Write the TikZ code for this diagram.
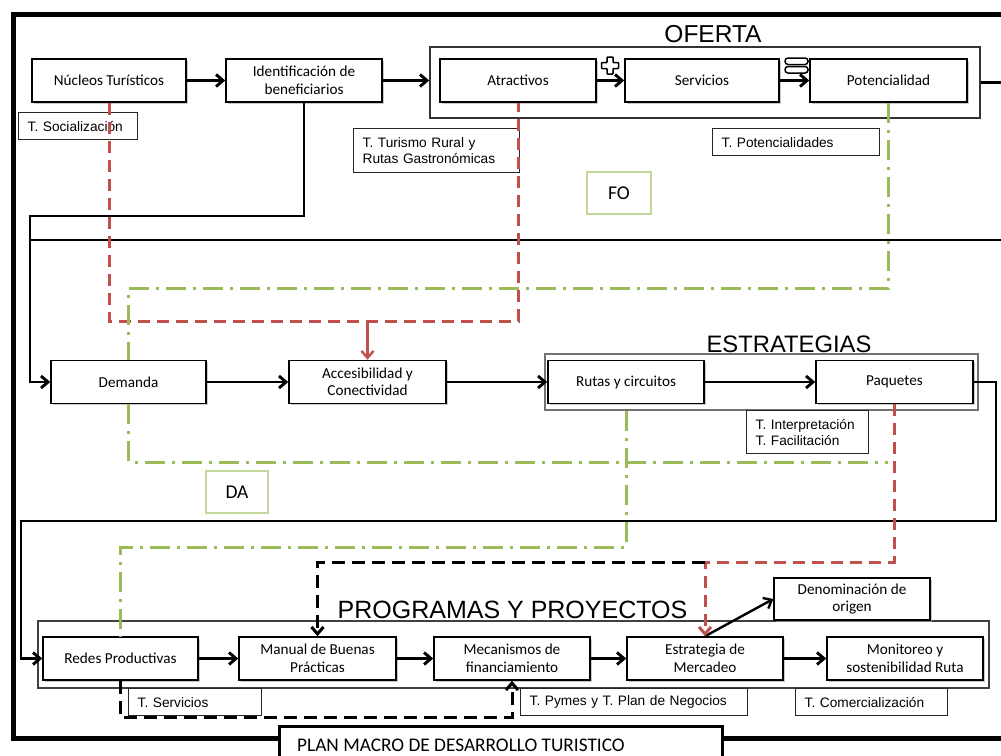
\documentclass[tikz,border=0pt]{standalone}
\usepackage{fontspec}
\setmainfont{Carlito}
\newfontfamily\arialf{Liberation Sans}
\usetikzlibrary{arrows.meta,shadows}
\definecolor{cgreen}{HTML}{9BBB59}
\definecolor{cgreenbox}{HTML}{C3D69B}
\definecolor{cred}{HTML}{C0504D}
\begin{document}
\begin{tikzpicture}[x=1pt,y=-1pt,
  >={Straight Barb[length=7pt,width=12pt]},
  box/.style={draw=black,line width=1.5pt,fill=white,minimum width=155pt,minimum height=43pt,inner sep=0pt,align=center,font=\fontsize{15.2}{17.5}\selectfont,drop shadow={shadow xshift=1.6pt,shadow yshift=-1.6pt,fill=black!35,opacity=0.6}},
  grp/.style={draw=black!80,line width=1.6pt,inner sep=0pt},
  tag/.style={draw=black!85,line width=1.3pt,anchor=north west,inner xsep=9pt,inner ysep=0pt,align=left,font=\arialf\fontsize{13.7}{16}\selectfont},
  swot/.style={draw=cgreenbox,line width=1.7pt,inner sep=0pt,font=\fontsize{19.5}{22}\selectfont},
  title/.style={anchor=base,inner sep=0pt,font=\arialf\fontsize{24.5}{26}\selectfont},
  conn/.style={draw=black,line width=2.9pt},
  frame/.style={draw=black,line width=5pt},
  gdash/.style={draw=cgreen,line width=3pt,dash pattern=on 20pt off 7pt on 3pt off 7pt},
  rdash/.style={draw=cred,line width=3pt,dash pattern=on 12pt off 7pt},
  kdash/.style={draw=black,line width=3pt,dash pattern=on 13pt off 7pt}
]
\useasboundingbox (0,0) rectangle (1001,755);
\clip (0,0) rectangle (1001,755);
\fill[white] (0,0) rectangle (1001,755);

% outer frame
\node[draw=black,line width=3pt,anchor=north west,minimum width=443pt,minimum height=50pt,inner sep=0pt] (plan) at (278,725) {};
\node[anchor=base west,inner sep=0pt,font=\fontsize{19.3}{22}\selectfont] (plantxt) at (297,751) {PLAN MACRO DE DESARROLLO TURISTICO};
\coordinate (fA) at (278,738);
\coordinate (fB) at (13,738);
\coordinate (fC) at (13,14);
\coordinate (fD) at (1012,14);
\coordinate (fE) at (721,738);
\coordinate (fF) at (1012,738);
\draw[frame] (fA) -- (fB) -- (fC) -- (fD);
\draw[frame] (fE) -- (fF);

% group boxes
\node[grp,minimum width=550pt,minimum height=71pt] (ofe) at (705,82.5) {};
\node[grp,draw=black!55,line width=2.2pt,minimum width=433pt,minimum height=56pt] (str) at (761.5,382) {};
\node[grp,draw=black!75,minimum width=951pt,minimum height=67pt] (prg) at (513.5,654.5) {};

% titles
\node[title] (tofe) at (713,42) {OFERTA};
\node[title,font=\arialf\fontsize{23.8}{26}\selectfont] (testr) at (789,352) {ESTRATEGIAS};
\node[title,font=\arialf\fontsize{25}{28}\selectfont] (tprg) at (512.5,618) {PROGRAMAS Y PROYECTOS};

% boxes row 1
\node[box,minimum width=154pt] (nuc) at (109,80.5) {Núcleos Turísticos};
\node[box,minimum width=156pt] (ide) at (304,80.5) {Identificación de\\beneficiarios};
\node[box,minimum width=156pt] (atr) at (518,80.5) {Atractivos};
\node[box,minimum width=154pt] (ser) at (702,80.5) {Servicios};
\node[box,minimum width=157pt] (pot) at (888.5,80.5) {Potencialidad};
% boxes row 2
\node[box] (dem) at (128.5,382) {Demanda};
\node[box,minimum width=157pt] (acc) at (367.5,382) {Accesibilidad y\\Conectividad};
\node[box,minimum width=156pt] (rut) at (626,382) {Rutas y circuitos};
\node[box,minimum width=157pt] (paq) at (894.5,382) {Paquetes};
% boxes row 3
\node[box] (red) at (120.5,658.5) {Redes Productivas};
\node[box,minimum width=157pt] (man) at (317.5,658.5) {Manual de Buenas\\Prácticas};
\node[box,minimum width=156pt] (mec) at (512,658.5) {Mecanismos de\\financiamiento};
\node[box,minimum width=156pt] (est) at (705,658.5) {Estrategia de\\Mercadeo};
\node[box,minimum width=156pt] (mon) at (905,658.5) {Monitoreo y\\sostenibilidad Ruta};
\node[box,minimum width=156pt,minimum height=42pt] (den) at (852,599) {Denominación de\\origen};

% plus and equal signs
\draw[line width=1.5pt,fill=white,rounded corners=0.8pt] (607,57) -- (613,57) -- (613,62.5) -- (618.5,62.5) -- (618.5,68.5) -- (613,68.5) -- (613,74) -- (607,74) -- (607,68.5) -- (601.5,68.5) -- (601.5,62.5) -- (607,62.5) -- cycle;
\draw[line width=1.5pt,fill=white,rounded corners=3pt] (785,58) rectangle (808,64.5);
\draw[line width=1.5pt,fill=white,rounded corners=3pt] (785,66.5) rectangle (808,73);

% tags
\node[tag,text width=101pt,minimum height=27pt] (tsoc) at (18,112) {T. Socialización};
\node[tag,text width=148pt,minimum height=44pt] (ttur) at (353,128) {T. Turismo Rural y\\Rutas Gastronómicas};
\node[tag,text width=149pt,minimum height=27pt] (tpot) at (712,128) {T. Potencialidades};
\node[tag,text width=104pt,minimum height=43pt] (tint) at (746,410) {T. Interpretación\\T. Facilitación};
\node[tag,text width=115pt,minimum height=27pt] (tser) at (128,688) {T. Servicios};
\node[tag,text width=209pt,minimum height=27pt] (tpym) at (520,688) {T. Pymes y T. Plan de Negocios};
\node[tag,text width=134pt,minimum height=27pt] (tcom) at (795,688) {T. Comercialización};

% FO / DA
\node[swot,minimum width=64pt,minimum height=42pt] (fo) at (619,193) {FO};
\node[swot,minimum width=62pt,minimum height=42pt] (da) at (237,492) {DA};

% solid connectors
\draw[conn,->] (nuc.east) -- (ide.west);
\draw[conn,->] (ide.east) -- (ide.east -| ofe.west);
\draw[conn,->] (atr.east) -- (ser.west);
\draw[conn,->] (ser.east) -- (pot.west);
\coordinate (rE) at (1012,82.5);
\draw[conn] (ofe.east) -- (rE);
\coordinate (c1) at (30,216);
\draw[conn,->] (ide.south) |- (c1) |- (dem.west);
\coordinate (s1) at (30,240);
\coordinate (s2) at (1012,240);
\draw[conn] (s1) -- (s2);
\draw[conn,->] (dem.east) -- (acc.west);
\draw[conn,->] (acc.east) -- (rut.west);
\draw[conn,->] (rut.east) -- (paq.west);
\coordinate (c2) at (996,521);
\coordinate (c3) at (21,521);
\draw[conn,->] (paq.east) -| (c2) -- (c3) |- (red.west);
\draw[conn,->] (red.east) -- (man.west);
\draw[conn,->] (man.east) -- (mec.west);
\draw[conn,->] (mec.east) -- (est.west);
\draw[conn,->] (est.east) -- (mon.west);
\draw[conn,line width=2.4pt,->] (est.north) -- (den.west);

% red dashed
\coordinate (r1) at (109,321);
\coordinate (r2) at (518,321);
\coordinate (r3) at (367.5,321);
\draw[rdash] (nuc.south) -- (r1) -- (r2) -- (atr.south);
\draw[draw=cred,line width=2.4pt,->] (r3) -- (acc.north);
\coordinate (r5) at (705,562);
\draw[rdash,->] (paq.south) |- (r5) -- (est.north);

% green dash-dot
\coordinate (g1) at (888.5,288);
\coordinate (g2) at (128.5,288);
\draw[gdash] (pot.south) -- (g1) -- (g2) -- (dem.north);
\coordinate (g3) at (128.5,462);
\coordinate (g4) at (888,462);
\draw[gdash] (dem.south) -- (g3) -- (g4);
\coordinate (g6) at (626,547);
\coordinate (g7) at (120.5,547);
\draw[gdash] (rut.south |- str.south) -- (g6) -- (g7) -- (red.north);

% black dashed
\coordinate (k1) at (317.5,562);
\draw[kdash,->] (r5) -- (k1) -- (man.north);
\coordinate (k2) at (120.5,717);
\coordinate (k3) at (512,717);
\draw[kdash,->] (red.south) -- (k2) -- (k3) -- (mec.south);
\end{tikzpicture}
\end{document}
